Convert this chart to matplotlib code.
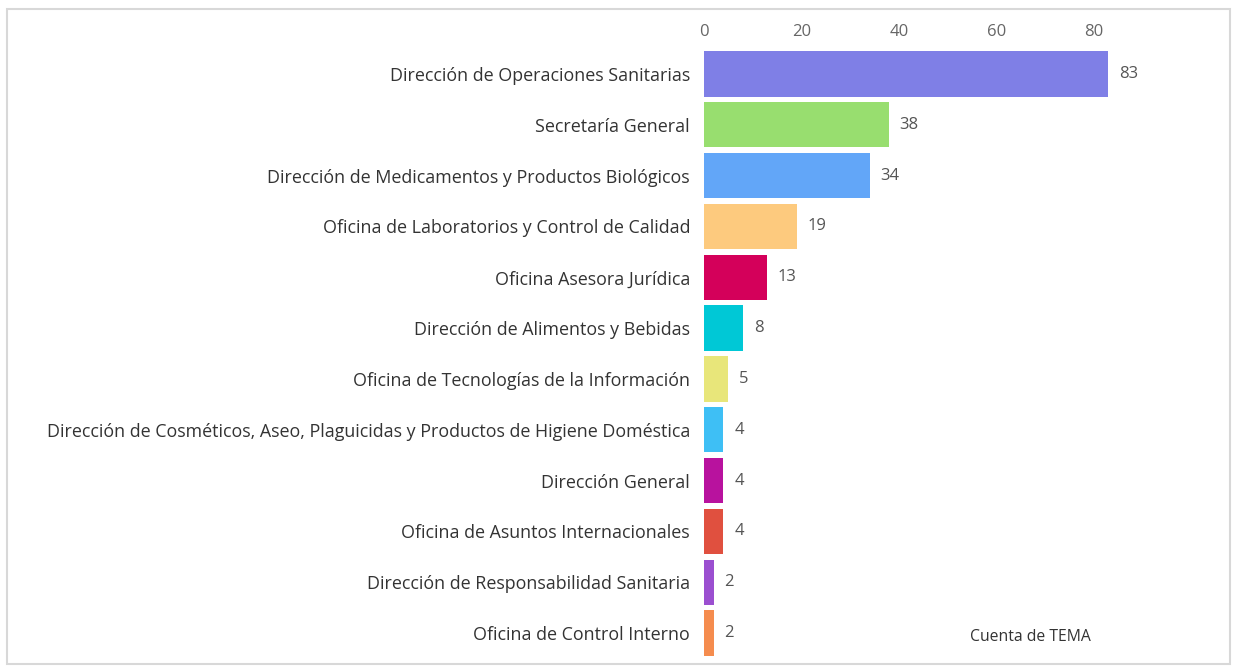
import matplotlib.pyplot as plt
from matplotlib.patches import Rectangle

# Datos
areas = [
    'Dirección de Operaciones Sanitarias',
    'Secretaría General',
    'Dirección de Medicamentos y Productos Biológicos',
    'Oficina de Laboratorios y Control de Calidad',
    'Oficina Asesora Jurídica',
    'Dirección de Alimentos y Bebidas',
    'Oficina de Tecnologías de la Información',
    'Dirección de Cosméticos, Aseo, Plaguicidas y Productos de Higiene Doméstica',
    'Dirección General',
    'Oficina de Asuntos Internacionales',
    'Dirección de Responsabilidad Sanitaria',
    'Oficina de Control Interno',
]
cuenta = [83, 38, 34, 19, 13, 8, 5, 4, 4, 4, 2, 2]
colores = ['#7F7FE6', '#98DE6F', '#62A6F8', '#FDCA7E', '#D4005A', '#00C8D6',
           '#E8E67A', '#3EBFF5', '#B8129E', '#E0503F', '#9B4FD0', '#F58C4E']
ticks_x = [0, 20, 40, 60, 80]

plt.rcParams['font.family'] = ['Open Sans', 'DejaVu Sans']

fig = plt.figure(figsize=(12.34, 6.68), dpi=100)
ax = fig.add_axes([0.5705, 0.0144, 0.3946, 0.9128])

y = list(range(len(areas)))
ax.barh(y, cuenta, height=0.89, color=colores)

for yi, v in zip(y, cuenta):
    ax.text(v + 2.2, yi, str(v), va='center', ha='left', fontsize=12, color='#555555')

ax.set_xlim(0, 100)
ax.set_ylim(len(areas) - 0.5, -0.5)
ax.set_yticks(y)
ax.set_yticklabels(areas, fontsize=12.9, color='#333333')
ax.set_xticks(ticks_x)
ax.xaxis.tick_top()
ax.tick_params(axis='x', length=0, pad=6, labelsize=12, labelcolor='#666666')
ax.tick_params(axis='y', length=0, pad=10)
for s in ax.spines.values():
    s.set_visible(False)

fig.text(0.786, 0.046, 'Cuenta de TEMA', fontsize=11.3, color='#333333', ha='left', va='center')

# marco de la captura
fig.patches.append(Rectangle((7 / 1234, 0.006), 1223 / 1234, 0.98, transform=fig.transFigure,
                             fill=False, edgecolor='#d8d8d8', linewidth=1.5))

plt.savefig('out.png', dpi=100)
